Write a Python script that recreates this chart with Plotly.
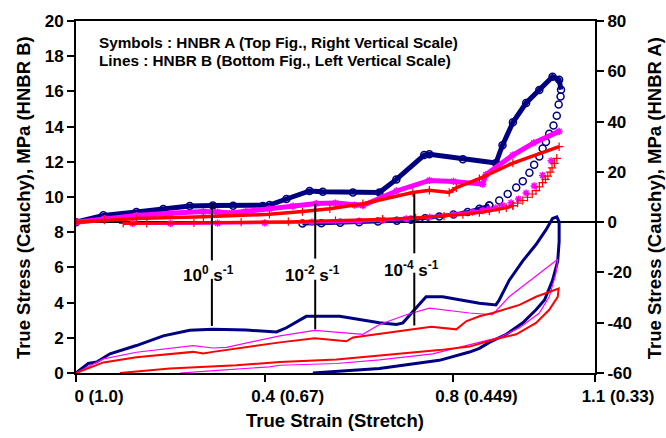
import plotly.graph_objects as go

# ---------------- HNBR A (symbols, right axis) ----------------
a_navy_load_x = [0, 0.058, 0.128, 0.185, 0.241, 0.29, 0.333, 0.396, 0.41, 0.446, 0.495, 0.523, 0.587, 0.643,
                 0.679, 0.738, 0.749, 0.82, 0.89, 0.904, 0.926, 0.954, 0.982, 1.010, 1.024, 1.028]
a_navy_load_y = [0, 2.7, 4.0, 5.2, 6.4, 6.6, 6.5, 6.4, 6.8, 9.2, 12.4, 12.1, 11.8, 11.8,
                 17.0, 26.7, 27.0, 25.0, 23.5, 30.6, 39.7, 47.4, 52.6, 57.8, 56.6, 52.7]
# unloading: upper part (sparse symbols) and lower part (dense symbols)
a_navy_unl_x = [1.027, 1.023, 1.019, 1.012, 1.003, 0.996, 0.989, 0.982, 0.971, 0.961, 0.947, 0.933, 0.915,
                0.897, 0.876]
a_navy_unl_y = [50.0, 46.8, 42.3, 38.4, 35.2, 31.9, 29.3, 26.1, 22.8, 19.6, 16.3, 13.8, 11.2,
                8.6, 6.6]
a_navy_tail_x = [0.876, 0.855, 0.83, 0.80, 0.77, 0.74, 0.71, 0.68, 0.64, 0.60, 0.56, 0.52, 0.48]
a_navy_tail_y = [6.6, 5.3, 4.0, 3.0, 2.2, 1.5, 1.0, 0.6, 0.3, 0.0, -0.2, -0.4, -0.5]

a_mag_load_x = [0, 0.06, 0.128, 0.2, 0.27, 0.30, 0.33, 0.36, 0.41, 0.46, 0.509, 0.55, 0.59, 0.608,
                0.679, 0.749, 0.80, 0.862, 0.869, 0.926, 0.97, 1.024]
a_mag_load_y = [0, 1.4, 2.6, 3.5, 4.2, 4.0, 3.6, 4.3, 5.3, 6.4, 7.4, 7.6, 6.8, 6.6,
                12.4, 16.6, 16.2, 15.1, 18.9, 26.7, 31.5, 36.1]
a_mag_unl_x = [1.007, 0.989, 0.971, 0.954, 0.938, 0.922, 0.904, 0.89, 0.876]
a_mag_unl_y = [24.4, 18.6, 14.4, 11.6, 9.2, 7.7, 6.6, 5.7, 5.2]
a_mag_tail_x = [0.876, 0.862, 0.84, 0.80, 0.75, 0.70, 0.65, 0.60, 0.5, 0.4, 0.3, 0.2, 0.12]
a_mag_tail_y = [5.2, 4.6, 4.0, 3.0, 2.0, 1.3, 0.8, 0.4, 0.0, -0.3, -0.4, -0.5, -0.5]

a_red_load_x = [0, 0.06, 0.128, 0.27, 0.41, 0.48, 0.538, 0.608, 0.714, 0.749, 0.791, 0.806, 0.855, 0.926, 1.024]
a_red_load_y = [0, 0.8, 1.4, 2.1, 3.1, 4.2, 5.3, 7.3, 11.8, 12.7, 11.8, 13.7, 17.3, 23.5, 30.0]
a_red_unl_x = [1.019, 1.014, 1.009, 1.005, 1.0, 0.995, 0.989, 0.982, 0.975, 0.967, 0.957, 0.947, 0.936,
               0.926]
a_red_unl_y = [25.4, 23.4, 21.6, 19.9, 18.3, 17.0, 15.7, 14.0, 12.5, 11.2, 9.9, 8.6, 7.6,
               6.6]
a_red_tail_x = [0.926, 0.912, 0.897, 0.876, 0.855, 0.82, 0.78, 0.72, 0.65, 0.55, 0.45, 0.35, 0.25, 0.15, 0.1]
a_red_tail_y = [6.6, 5.7, 5.1, 4.4, 3.8, 3.0, 2.4, 1.7, 1.2, 0.6, 0.2, 0.0, -0.3, -0.5, -0.5]

# ---------------- HNBR B (lines, left axis) ----------------
b_navy_x = [0, 0.026, 0.044, 0.072, 0.128, 0.185, 0.241, 0.29, 0.361, 0.425, 0.446, 0.488, 0.559, 0.643,
            0.679, 0.693, 0.714, 0.742, 0.777, 0.855, 0.890, 0.897, 0.918, 0.947, 0.975, 0.996, 1.010,
            1.019, 1.024, 1.024, 1.021, 1.010, 0.993, 0.975, 0.947, 0.912, 0.876, 0.855, 0.834, 0.770,
            0.643, 0.502]
b_navy_y = [0, 0.54, 0.63, 1.09, 1.56, 2.11, 2.43, 2.48, 2.44, 2.33, 2.57, 3.22, 3.22, 2.85,
            2.76, 2.85, 3.5, 4.33, 4.33, 3.96, 3.87, 4.15, 5.26, 6.37, 7.3, 8.13, 8.78,
            8.87, 8.59, 7.48, 6.37, 5.26, 4.15, 3.59, 2.85, 2.2, 1.74, 1.4, 1.19, 0.72,
            0.26, 0.0]

b_mag_x = [0, 0.058, 0.128, 0.248, 0.29, 0.319, 0.432, 0.506, 0.608, 0.643, 0.700, 0.749, 0.834, 0.883,
           0.918, 1.021, 1.017, 1.003, 0.982, 0.940, 0.897, 0.834, 0.756, 0.643, 0.552, 0.432, 0.41,
           0.30, 0.22]
b_mag_y = [0, 0.8, 1.18, 1.56, 1.42, 1.46, 2.11, 2.42, 2.2, 2.76, 3.31, 3.69, 3.41, 3.31,
           4.33, 6.46, 5.63, 4.33, 3.41, 2.57, 2.02, 1.6, 1.09, 0.75, 0.54, 0.44, 0.35,
           0.15, 0.0]

b_red_x = [0, 0.058, 0.128, 0.248, 0.27, 0.29, 0.432, 0.506, 0.573, 0.587, 0.753, 0.806, 0.827, 0.855,
           0.883, 0.940, 0.975, 1.023, 1.021, 1.003, 0.975, 0.933, 0.890, 0.855, 0.834, 0.770, 0.643,
           0.552, 0.432, 0.34, 0.199, 0.093]
b_red_y = [0, 0.6, 0.9, 1.2, 1.11, 1.2, 1.74, 1.98, 1.80, 2.02, 2.63, 2.48, 2.94, 3.22,
           3.41, 3.87, 4.33, 4.80, 4.33, 3.59, 2.85, 2.2, 1.93, 1.65, 1.5, 1.3, 1.0,
           0.76, 0.63, 0.44, 0.26, 0.0]

# ---------------- rate labels ----------------
label_texts = ["<b>10<sup>0</sup> s<sup>-1</sup></b>", "<b>10<sup>-2</sup> s<sup>-1</sup></b>",
               "<b>10<sup>-4</sup> s<sup>-1</sup></b>"]
label_x = [0.288, 0.507, 0.717]
label_y = [5.6, 5.6, 5.9]
pointer_top = [9.65, 9.61, 10.17]
pointer_gap_top = [6.4, 6.5, 6.8]
pointer_gap_bot = [5.35, 5.3, 5.7]
pointer_bot = [2.67, 2.48, 2.7]

x_tickvals = [0, 0.4, 0.8, 1.1]
x_ticktext = ["0 (1.0)", "0.4 (0.67)", "0.8 (0.449)", "1.1 (0.33)"]
y_tickvals = [0, 2, 4, 6, 8, 10, 12, 14, 16, 18, 20]
y2_tickvals = [-60, -40, -20, 0, 20, 40, 60, 80]
y2_ticktext = ["-60", "-40", "-20", "0", "20", "40", "60", "80"]

NAVY = "#000080"
MAG = "#FF00FF"
RED = "#FF0000"
FONT = "Liberation Sans, Arial, sans-serif"

fig = go.Figure()

# HNBR B lines
fig.add_trace(go.Scatter(x=b_navy_x, y=b_navy_y, mode="lines", line=dict(color=NAVY, width=3), yaxis="y"))
fig.add_trace(go.Scatter(x=b_mag_x, y=b_mag_y, mode="lines", line=dict(color=MAG, width=1.2), yaxis="y"))
fig.add_trace(go.Scatter(x=b_red_x, y=b_red_y, mode="lines", line=dict(color=RED, width=2), yaxis="y"))

circ = dict(symbol="circle-open", size=7, color=NAVY, line=dict(width=1.5, color=NAVY))
ast = dict(symbol="asterisk-open", size=6, color=MAG, line=dict(width=1.5, color=MAG))
plus = dict(symbol="cross-thin-open", size=6, color=RED, line=dict(width=1.2, color=RED))

# HNBR A symbols
fig.add_trace(go.Scatter(x=a_navy_load_x, y=a_navy_load_y, mode="lines+markers", yaxis="y2",
                         line=dict(color=NAVY, width=5), marker=circ))
fig.add_trace(go.Scatter(x=a_navy_unl_x, y=a_navy_unl_y, mode="markers", yaxis="y2", marker=circ))
fig.add_trace(go.Scatter(x=a_navy_tail_x, y=a_navy_tail_y, mode="lines+markers", yaxis="y2",
                         line=dict(color=NAVY, width=4), marker=circ))
fig.add_trace(go.Scatter(x=a_mag_load_x, y=a_mag_load_y, mode="lines+markers", yaxis="y2",
                         line=dict(color=MAG, width=5), marker=ast))
fig.add_trace(go.Scatter(x=a_mag_unl_x, y=a_mag_unl_y, mode="markers", yaxis="y2", marker=ast))
fig.add_trace(go.Scatter(x=a_mag_tail_x, y=a_mag_tail_y, mode="lines+markers", yaxis="y2",
                         line=dict(color=MAG, width=3), marker=ast))
fig.add_trace(go.Scatter(x=a_red_load_x, y=a_red_load_y, mode="lines+markers", yaxis="y2",
                         line=dict(color=RED, width=3.5), marker=plus))
fig.add_trace(go.Scatter(x=a_red_unl_x, y=a_red_unl_y, mode="markers", yaxis="y2", marker=plus))
fig.add_trace(go.Scatter(x=a_red_tail_x, y=a_red_tail_y, mode="lines+markers", yaxis="y2",
                         line=dict(color=RED, width=3), marker=plus))

# pointer lines (split around text)
for i in range(3):
    for y0, y1 in [(pointer_top[i], pointer_gap_top[i]), (pointer_gap_bot[i], pointer_bot[i])]:
        fig.add_shape(type="line", xref="x", yref="y", x0=label_x[i], x1=label_x[i], y0=y0, y1=y1,
                      line=dict(color="black", width=2))

annotations = []
for t, x, y in zip(label_texts, label_x, label_y):
    annotations.append(dict(text=t, x=x, y=y, xref="x", yref="y", showarrow=False, xshift=-3,
                            font=dict(family=FONT, size=17, color="black"),
                            xanchor="center", yanchor="middle"))

annotations += [
    dict(text="<b>Symbols : HNBR A (Top Fig., Right Vertical Scale)</b>", x=0.04, y=0.939, xref="paper", yref="paper",
         xanchor="left", yanchor="middle", showarrow=False, font=dict(family=FONT, size=15.3, color="black")),
    dict(text="<b>Lines : HNBR B (Bottom Fig., Left Vertical Scale)</b>", x=0.04, y=0.889, xref="paper", yref="paper",
         xanchor="left", yanchor="middle", showarrow=False, font=dict(family=FONT, size=15.3, color="black")),
    dict(text="<b>True Stress (Cauchy), MPa (HNBR B)</b>", x=-0.102, y=0.497, xref="paper", yref="paper",
         textangle=-90, xanchor="center", yanchor="middle", showarrow=False,
         font=dict(family=FONT, size=18.5, color="black")),
    dict(text="<b>True Stress (Cauchy), MPa (HNBR A)</b>", x=1.114, y=0.497, xref="paper", yref="paper",
         textangle=-90, xanchor="center", yanchor="middle", showarrow=False,
         font=dict(family=FONT, size=18.5, color="black")),
    dict(text="<b>True Strain (Stretch)</b>", x=0.499, y=-0.136, xref="paper", yref="paper",
         xanchor="center", yanchor="middle", showarrow=False, font=dict(family=FONT, size=18.5, color="black")),
]

tickfont = dict(family=FONT, size=17, color="black", weight="bold")

fig.update_layout(
    width=666, height=438,
    margin=dict(l=76, r=70, t=13, b=65),
    paper_bgcolor="white", plot_bgcolor="white",
    showlegend=False,
    font=dict(family=FONT, color="black", weight="bold"),
    annotations=annotations,
    xaxis=dict(range=[0, 1.1], tickvals=x_tickvals, ticktext=x_ticktext, ticks="outside", ticklen=7,
               tickwidth=2, tickcolor="black", showline=True, linecolor="black", linewidth=2, mirror=True,
               showgrid=False, zeroline=False, tickfont=tickfont, ticklabelshift=23),
    yaxis=dict(range=[0, 20], tickvals=y_tickvals, ticks="outside", ticklen=7, tickwidth=2, tickcolor="black",
               showline=True, linecolor="black", linewidth=2, showgrid=False, zeroline=False, tickfont=tickfont),
    yaxis2=dict(range=[-60, 80], tickvals=y2_tickvals, ticktext=y2_ticktext, overlaying="y", side="right",
                ticks="outside", ticklen=7, tickwidth=2, tickcolor="black", showline=True, linecolor="black",
                linewidth=2, showgrid=False, zeroline=True, zerolinecolor="black", zerolinewidth=2,
                tickfont=tickfont),
)

fig.write_html("out.html")
